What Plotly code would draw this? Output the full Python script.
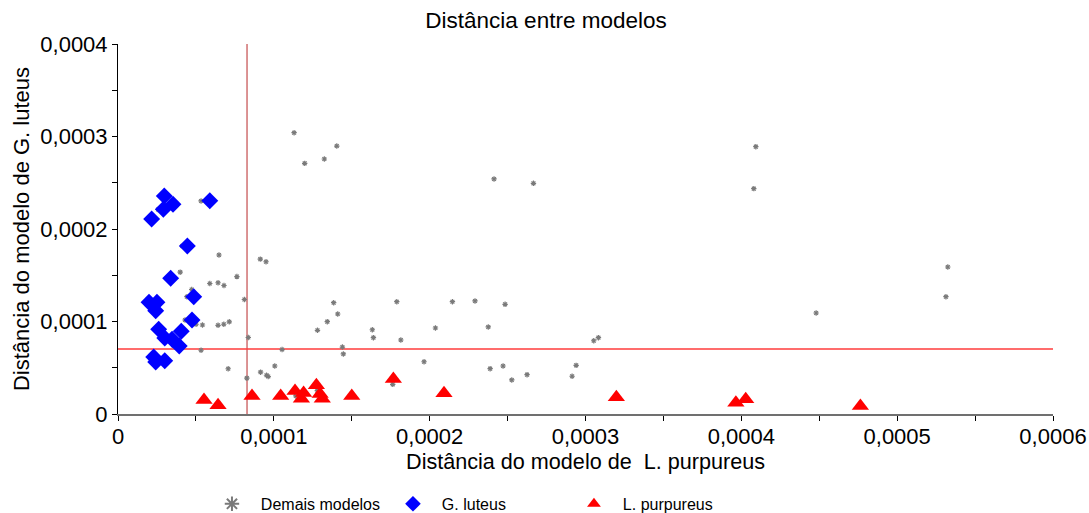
import plotly.graph_objects as go

# ---------------- data ----------------
demais_x = [1.130e-4, 1.198e-4, 1.324e-4, 1.404e-4, 2.413e-4, 2.666e-4, 4.093e-4, 4.080e-4,
            0.533e-4, 0.257e-4, 0.413e-4, 0.648e-4, 0.913e-4, 0.950e-4, 0.399e-4, 0.313e-4,
            0.763e-4, 0.589e-4, 0.642e-4, 0.680e-4, 0.473e-4, 0.442e-4, 0.811e-4, 0.430e-4,
            0.501e-4, 0.542e-4, 0.642e-4, 0.679e-4, 0.714e-4, 0.836e-4, 0.359e-4, 0.533e-4,
            0.707e-4, 0.827e-4, 0.915e-4, 0.953e-4, 0.964e-4, 1.006e-4, 1.053e-4, 1.280e-4,
            1.343e-4, 1.384e-4, 1.410e-4, 1.440e-4, 1.446e-4, 1.632e-4, 1.639e-4, 1.789e-4,
            1.815e-4, 1.964e-4, 2.037e-4, 2.146e-4, 2.291e-4, 2.376e-4, 2.388e-4, 2.471e-4,
            2.484e-4, 2.527e-4, 2.625e-4, 2.914e-4, 2.940e-4, 3.053e-4, 3.083e-4, 4.480e-4,
            5.325e-4, 5.313e-4, 1.763e-4, 1.279e-4, 1.141e-4]
demais_y = [3.041e-4, 2.710e-4, 2.757e-4, 2.897e-4, 2.541e-4, 2.494e-4, 2.890e-4, 2.436e-4,
            2.303e-4, 2.211e-4, 1.816e-4, 1.719e-4, 1.674e-4, 1.646e-4, 1.533e-4, 1.467e-4,
            1.486e-4, 1.411e-4, 1.419e-4, 1.389e-4, 1.346e-4, 1.268e-4, 1.238e-4, 1.016e-4,
            0.970e-4, 0.962e-4, 0.959e-4, 0.970e-4, 0.997e-4, 0.827e-4, 0.735e-4, 0.689e-4,
            0.489e-4, 0.387e-4, 0.452e-4, 0.419e-4, 0.405e-4, 0.519e-4, 0.697e-4, 0.905e-4,
            0.998e-4, 1.203e-4, 1.081e-4, 0.724e-4, 0.649e-4, 0.911e-4, 0.825e-4, 1.214e-4,
            0.800e-4, 0.565e-4, 0.930e-4, 1.214e-4, 1.222e-4, 0.941e-4, 0.490e-4, 0.519e-4,
            1.186e-4, 0.368e-4, 0.425e-4, 0.408e-4, 0.526e-4, 0.792e-4, 0.825e-4, 1.092e-4,
            1.589e-4, 1.268e-4, 0.321e-4, 0.252e-4, 0.195e-4]

luteus_x = [0.297e-4, 0.353e-4, 0.291e-4, 0.216e-4, 0.589e-4, 0.445e-4, 0.338e-4, 0.486e-4,
            0.199e-4, 0.250e-4, 0.242e-4, 0.475e-4, 0.261e-4, 0.300e-4, 0.347e-4, 0.406e-4,
            0.393e-4, 0.229e-4, 0.242e-4, 0.300e-4]
luteus_y = [2.357e-4, 2.267e-4, 2.213e-4, 2.108e-4, 2.306e-4, 1.816e-4, 1.467e-4, 1.268e-4,
            1.208e-4, 1.208e-4, 1.117e-4, 1.016e-4, 0.916e-4, 0.822e-4, 0.808e-4, 0.894e-4,
            0.735e-4, 0.616e-4, 0.562e-4, 0.576e-4]

purpureus_x = [0.552e-4, 0.642e-4, 0.860e-4, 1.044e-4, 1.136e-4, 1.191e-4, 1.177e-4, 1.273e-4,
               1.297e-4, 1.311e-4, 1.500e-4, 1.767e-4, 2.092e-4, 3.198e-4, 3.965e-4, 4.028e-4,
               4.764e-4]
purpureus_y = [0.151e-4, 0.094e-4, 0.195e-4, 0.195e-4, 0.249e-4, 0.227e-4, 0.165e-4, 0.310e-4,
               0.216e-4, 0.165e-4, 0.195e-4, 0.378e-4, 0.224e-4, 0.181e-4, 0.122e-4, 0.159e-4,
               0.086e-4]

ref_x = 0.828e-4   # vertical reference line
ref_y = 0.703e-4   # horizontal reference line

x_tickvals = [0, 0.5e-4, 1e-4, 1.5e-4, 2e-4, 2.5e-4, 3e-4, 3.5e-4, 4e-4, 4.5e-4, 5e-4, 5.5e-4, 6e-4]
x_ticktext = ["0", "", "0,0001", "", "0,0002", "", "0,0003", "", "0,0004", "", "0,0005", "", "0,0006"]
y_tickvals = [0, 0.5e-4, 1e-4, 1.5e-4, 2e-4, 2.5e-4, 3e-4, 3.5e-4, 4e-4]
y_ticktext = ["0", "", "0,0001", "", "0,0002", "", "0,0003", "", "0,0004"]

FONT = "Liberation Sans, Arial, sans-serif"
PAD = "\u00a0\u00a0"   # small gap between legend symbol and its text

fig = go.Figure()
fig.add_trace(go.Scatter(
    x=demais_x, y=demais_y, mode="markers", name=PAD + "Demais modelos",
    marker=dict(symbol="asterisk-open", size=4.5, color="#7a7a7a",
                line=dict(color="#7a7a7a", width=1.2)),
))
fig.add_trace(go.Scatter(
    x=luteus_x, y=luteus_y, mode="markers", name=PAD + "G. luteus",
    marker=dict(symbol="diamond", size=13, color="#0000FF", line=dict(width=0)),
))
fig.add_trace(go.Scatter(
    x=purpureus_x, y=purpureus_y, mode="markers", name=PAD + "L. purpureus",
    marker=dict(symbol="triangle-up", size=15, color="#FF0000", line=dict(width=0)),
))

fig.add_shape(type="line", xref="x", yref="y", x0=ref_x, x1=ref_x, y0=0, y1=4e-4,
              line=dict(color="#B8282A", width=1), layer="below")
fig.add_shape(type="line", xref="x", yref="y", x0=0, x1=6e-4, y0=ref_y, y1=ref_y,
              line=dict(color="#FF3B3B", width=1.5), layer="below")

fig.update_layout(
    width=1089, height=513,
    margin=dict(l=118, r=36, t=44, b=99, autoexpand=False),
    paper_bgcolor="white", plot_bgcolor="white",
    font=dict(family=FONT, color="black"),
    title=dict(text="Distância entre modelos", x=0.5014, xref="container", y=0.961,
               xanchor="center", yanchor="middle", font=dict(size=22.5, family=FONT)),
    showlegend=True,
    legend=dict(orientation="h", x=0.1005, xanchor="left", y=-0.243, yanchor="middle",
                font=dict(size=16, family=FONT), entrywidth=136, entrywidthmode="pixels",
                itemsizing="constant", traceorder="normal"),
)
fig.update_xaxes(
    range=[0, 6e-4], tickvals=x_tickvals, ticktext=x_ticktext, automargin=False,
    showgrid=False, zeroline=False, showline=True, linecolor="#707070", linewidth=2,
    ticks="outside", ticklen=5, tickcolor="black", tickfont=dict(size=22),
    ticklabelstandoff=-3,
    title=dict(text="Distância do modelo de  L. purpureus", font=dict(size=21.6), standoff=0),
)
fig.update_yaxes(
    range=[0, 4e-4], tickvals=y_tickvals, ticktext=y_ticktext, automargin=False,
    showgrid=False, zeroline=False, showline=True, linecolor="black", linewidth=1,
    ticks="outside", ticklen=5, tickcolor="black", tickfont=dict(size=22),
    title=dict(text="Distância do modelo de G. luteus", font=dict(size=22), standoff=4),
)

# remove the default 8px page margin so the figure fills the window exactly
fig.write_html("out.html", config={"displayModeBar": False},
               post_script="document.body.style.margin='0';document.body.style.overflow='hidden';")
